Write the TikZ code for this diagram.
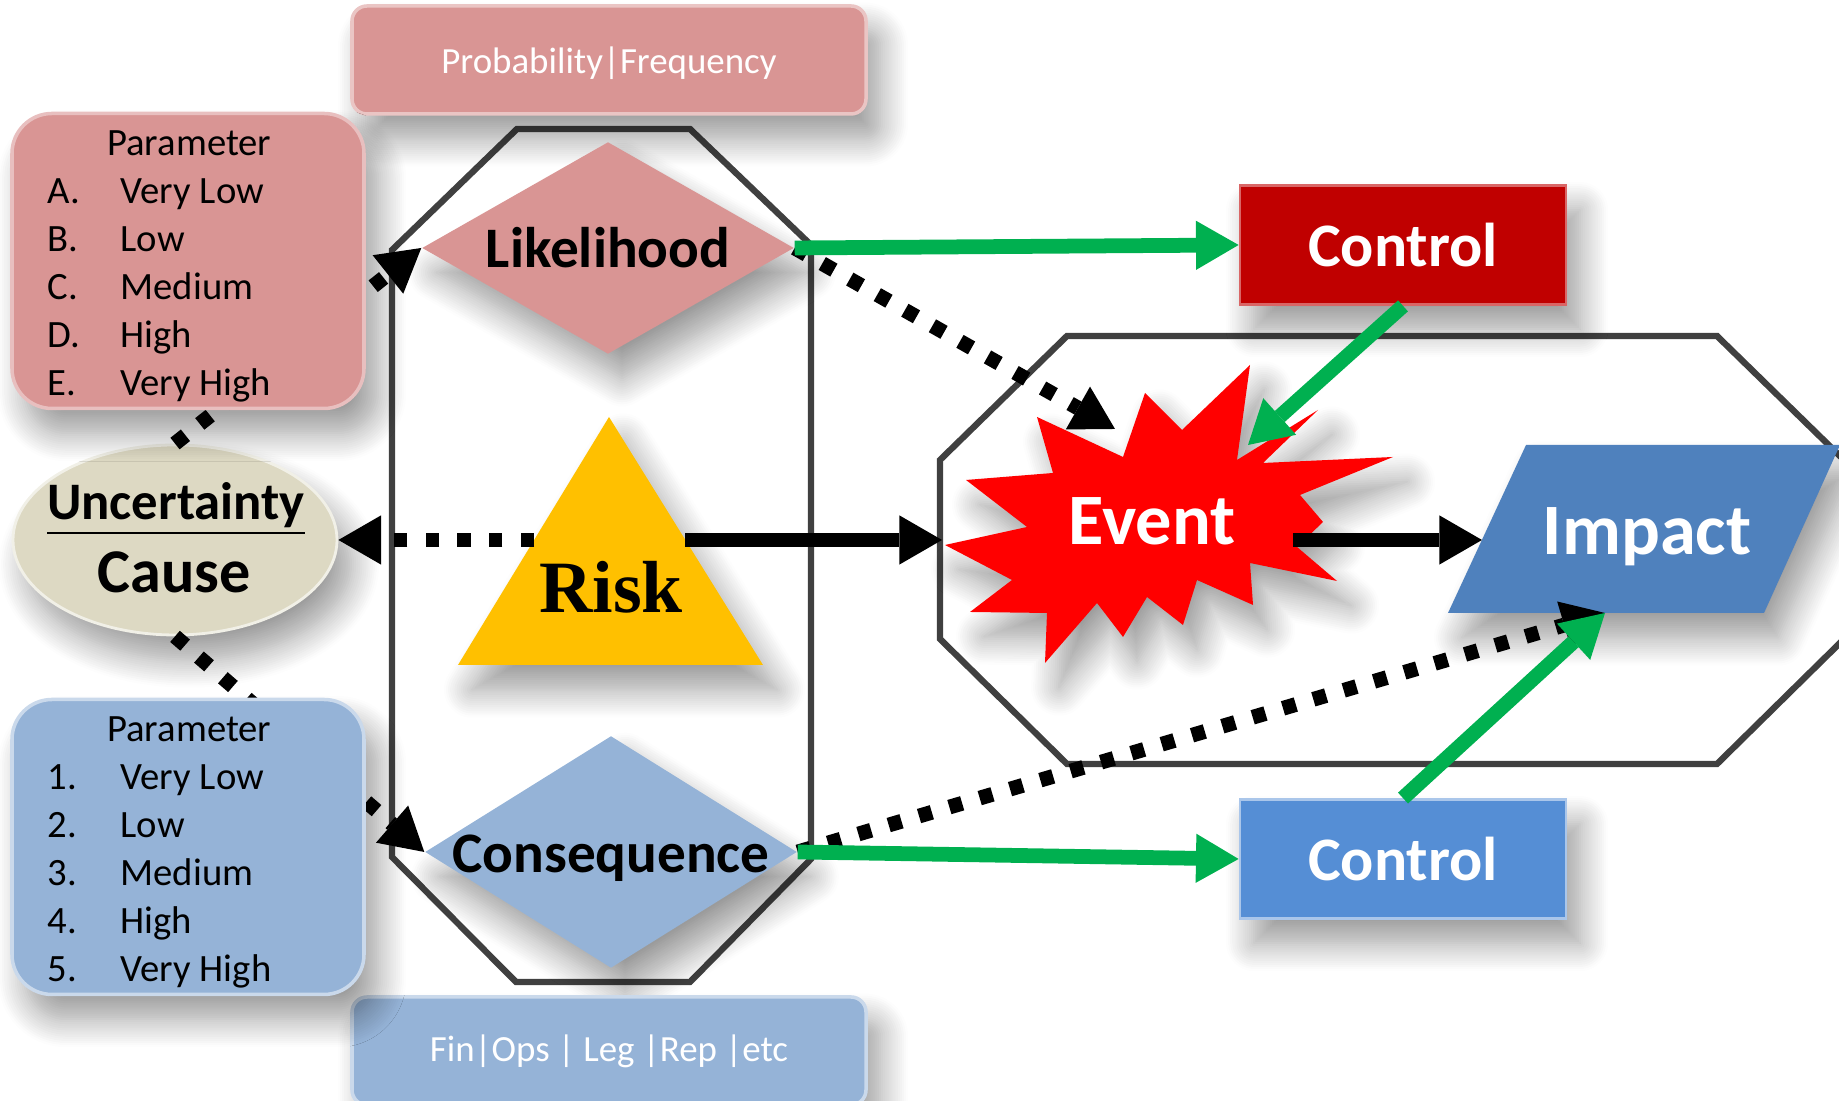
\documentclass[tikz,border=0pt]{standalone}
\usepackage{fontspec}
\setmainfont{Carlito}
\newfontfamily\riskfont{Liberation Serif}
\usetikzlibrary{arrows.meta,shapes.geometric,shadows.blur}
\definecolor{blush}{HTML}{D99594}
\definecolor{paleblue}{HTML}{95B3D7}
\definecolor{sand}{HTML}{DDD9C3}
\definecolor{amber}{HTML}{FFC000}
\definecolor{ctlred}{HTML}{C00000}
\definecolor{ctlblue}{HTML}{558ED5}
\definecolor{impblue}{HTML}{4F81BD}
\definecolor{okgreen}{HTML}{00B050}
\definecolor{frame}{HTML}{404040}
\def\fsz#1#2{\fontsize{#1}{#2}\selectfont}

\begin{document}
\begin{tikzpicture}[
  soft/.style={blur shadow={shadow xshift=4pt,shadow yshift=-7pt,shadow blur radius=8pt,shadow blur steps=14,shadow opacity=40}},
  octa/.style={draw=frame,line width=1.8pt},
  tip/.style={-{Triangle[angle=60:14pt,line width=0pt]}},
  dotarrow/.style={black,line width=4.2pt,dash pattern=on 3.8pt off 5.2pt,tip},
  fullarrow/.style={black,line width=4.2pt,tip},
  greenarrow/.style={okgreen,line width=4.2pt,tip},
  parambox/.style={rounded corners=0.4cm,minimum width=3.52cm,minimum height=2.95cm,line width=1pt,soft},
  tagbar/.style={rounded corners=0.15cm,minimum width=5.14cm,minimum height=1.08cm,line width=1pt,text=white,font=\fsz{10.5}{12.6},soft},
  ctlbox/.style={minimum width=3.26cm,minimum height=1.19cm,line width=0.8pt,text=white,font=\fsz{17.6}{21}\bfseries,soft},
  bigtext/.style={anchor=base,font=\fsz{16.3}{19.6}\bfseries}
]
\useasboundingbox (0,0) rectangle (18.39,11.01);
% the two frames
\draw[octa] (5.17,9.72) -- (6.90,9.72) -- (8.11,8.56) -- (8.11,2.42) -- (6.90,1.19) -- (5.16,1.19) -- (3.92,2.44) -- (3.92,8.51) -- cycle;
\draw[octa] (10.67,7.65) -- (17.17,7.65) -- (18.44,6.41) -- (18.44,4.62) -- (17.17,3.37) -- (10.67,3.37) -- (9.40,4.62) -- (9.40,6.41) -- cycle;

\node[tagbar,fill=blush,draw=blush!55!white,text depth=0pt] (prob) at (6.09,10.41) {Probability|Frequency};

% likelihood, risk, consequence
\node[diamond,minimum width=3.72cm,minimum height=2.12cm,inner sep=0,fill=blush,soft] (lik) at (6.08,8.53) {};
\node[bigtext] (lik-t) at (6.08,8.33) {Likelihood};
\fill[amber,soft] (6.09,6.84) -- (7.63,4.36) -- (4.58,4.36) -- cycle;
\coordinate (rk-l) at (5.34,5.61);
\coordinate (rk-r) at (6.85,5.61);
\node[anchor=base,font=\riskfont\bfseries\fsz{21}{25}] (risk) at (6.11,4.88) {Risk};
\node[diamond,minimum width=3.72cm,minimum height=2.32cm,inner sep=0,fill=paleblue,soft] (con) at (6.11,2.49) {};
\node[bigtext] (con-t) at (6.11,2.28) {Consequence};

\node[tagbar,fill=paleblue,draw=paleblue!50!white] (fin) at (6.09,0.50) {Fin|Ops | Leg |Rep |etc};

% cause
\node[ellipse,minimum width=3.24cm,minimum height=1.90cm,inner sep=0,fill=sand,draw=sand!40!white,line width=0.8pt,soft] (cause) at (1.75,5.61) {};
\node[anchor=base,font=\fsz{15}{18}\bfseries] (unc-t) at (1.76,5.81) {\underline{Uncertainty}};
\node[anchor=base,font=\fsz{17.7}{21}\bfseries] (cause-t) at (1.74,5.08) {Cause};

% event
\fill[red,soft] (12.50,7.36) -- (12.37,6.41) -- (13.18,6.91) -- (12.63,6.38) -- (13.93,6.44) -- (13.00,6.06) -- (13.23,5.79) -- (12.97,5.54) -- (13.37,5.20) -- (12.50,5.38) -- (12.53,4.96) -- (11.97,5.21) -- (11.83,4.76) -- (11.47,5.04) -- (11.23,4.64) -- (10.97,4.98) -- (10.45,4.38) -- (10.47,4.88) -- (9.70,4.89) -- (10.12,5.21) -- (9.45,5.56) -- (10.27,5.74) -- (9.66,6.21) -- (10.53,6.28) -- (10.37,6.84) -- (11.23,6.44) -- (11.45,7.08) -- (11.82,6.71) -- cycle;
\node[anchor=base,text=white,font=\fsz{20.6}{24.7}\bfseries] (event) at (11.52,5.56) {Event};
\coordinate (ev-w) at (9.42,5.61);
\coordinate (ev-e) at (12.93,5.61);
\coordinate (ev-nw) at (11.15,6.72);
\coordinate (ev-ne) at (12.48,6.56);

% impact
\fill[impblue,soft] (14.48,4.88) -- (15.26,6.56) -- (18.40,6.56) -- (17.64,4.88) -- cycle;
\node[anchor=base,text=white,font=\fsz{20.6}{24.7}\bfseries] (impact) at (16.47,5.46) {Impact};
\coordinate (imp-w) at (14.82,5.61);
\coordinate (imp-s) at (16.05,4.88);

\node[ctlbox,fill=ctlred,draw=ctlred!60!white] (ctl1) at (14.03,8.56) {Control};
\node[ctlbox,fill=ctlblue,draw=ctlblue!50!white] (ctl2) at (14.03,2.42) {Control};

\draw[dotarrow] (cause.north) -- (lik.west);
\draw[dotarrow] (cause.south) -- (con.west);

% parameter lists
\node[parambox,fill=blush,draw=blush!60!white] (lpar) at (1.88,8.40) {};
\node[anchor=west,inner sep=0,font=\fsz{11}{13.66}] (ltab) at (0.47,8.35) {\begin{tabular}{@{}p{0.73cm}@{}l@{}}
\multicolumn{2}{@{}r@{}}{Parameter}\\
A. & Very Low\\ B. & Low\\ C. & Medium\\ D. & High\\ E. & Very High
\end{tabular}};
\node[parambox,fill=paleblue,draw=paleblue!50!white] (cpar) at (1.88,2.54) {};
\node[anchor=west,inner sep=0,font=\fsz{11}{13.66}] (ctab) at (0.47,2.49) {\begin{tabular}{@{}p{0.73cm}@{}l@{}}
\multicolumn{2}{@{}r@{}}{Parameter}\\
1. & Very Low\\ 2. & Low\\ 3. & Medium\\ 4. & High\\ 5. & Very High
\end{tabular}};

% connectors
\draw[dotarrow] (rk-l) -- (cause.east);
\draw[fullarrow] (rk-r) -- (ev-w);
\draw[dotarrow] (lik.east) -- (ev-nw);
\draw[greenarrow] (lik.east) -- (ctl1.west);
\draw[greenarrow] (ctl1.south) -- (ev-ne);
\draw[fullarrow] (ev-e) -- (imp-w);
\draw[dotarrow] (con.east) -- (imp-s);
\draw[greenarrow] (con.east) -- (ctl2.west);
\draw[greenarrow] (ctl2.north) -- (imp-s);
\end{tikzpicture}
\end{document}
